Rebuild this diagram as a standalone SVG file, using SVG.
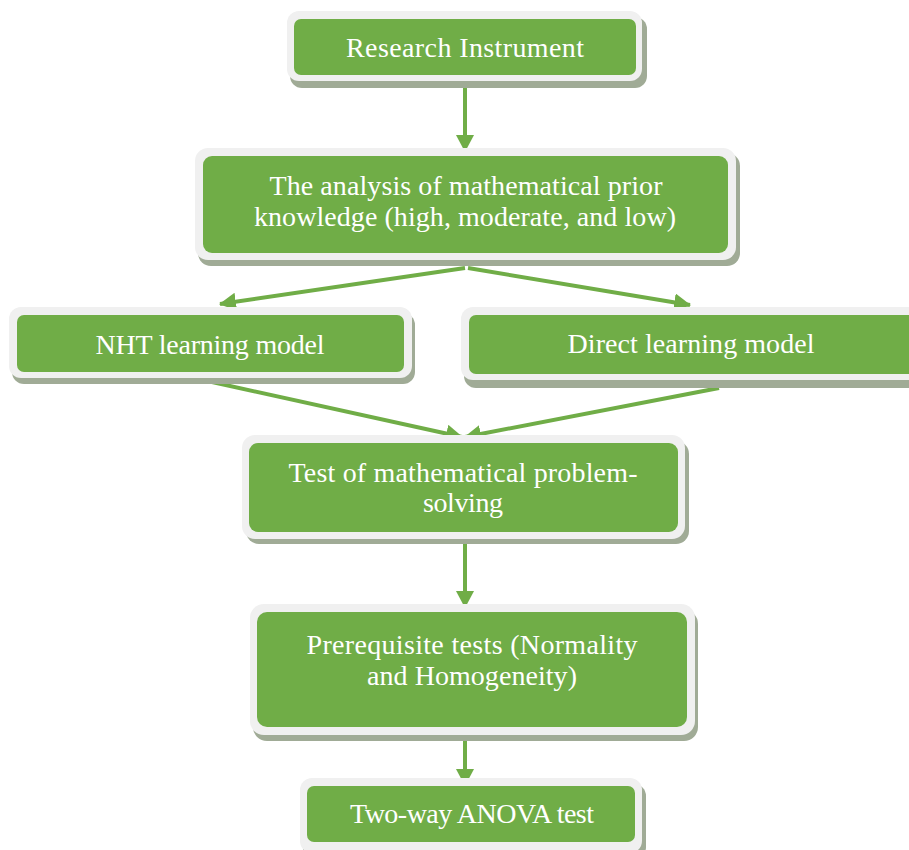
<svg xmlns="http://www.w3.org/2000/svg" width="909" height="850" viewBox="0 0 909 850">
<style>
.sh{fill:#a0ab96}
.out{fill:#f0f0f0}
.in{fill:#70ad47}
.t{font-family:"Liberation Serif","Times New Roman",serif;font-size:28px;fill:#ffffff;text-anchor:middle}
.c{stroke:#70ad47;stroke-width:4;fill:none;marker-end:url(#ah)}
</style>
<defs>
<marker id="ah" markerUnits="userSpaceOnUse" markerWidth="17" markerHeight="18" refX="16" refY="9" orient="auto">
<path d="M0,0 L17,9 L0,18 z" fill="#70ad47"/>
</marker>
</defs>
<rect width="909" height="850" fill="#ffffff"/>
<g id="connectors">
<line class="c" x1="465" y1="82" x2="465" y2="151"/>
<line class="c" x1="465" y1="268" x2="220" y2="304"/>
<line class="c" x1="468" y1="268" x2="690" y2="305"/>
<line class="c" x1="212" y1="382" x2="462" y2="437"/>
<line class="c" x1="719" y1="388" x2="465" y2="437"/>
<line class="c" x1="465" y1="540" x2="465" y2="607"/>
<line class="c" x1="465" y1="737" x2="465" y2="785"/>
</g>
<g id="n1">
<rect class="sh" x="290" y="17" width="357" height="71" rx="12"/>
<rect class="out" x="287" y="11" width="355" height="70" rx="12"/>
<rect class="in" x="294" y="19" width="342" height="56" rx="7"/>
<text class="t" x="465" y="57" textLength="238">Research Instrument</text>
</g>
<g id="n2">
<rect class="sh" x="198" y="153" width="542" height="113" rx="13"/>
<rect class="out" x="195" y="148" width="541" height="112" rx="13"/>
<rect class="in" x="203" y="156" width="525" height="97" rx="9"/>
<text class="t" x="466" y="195" textLength="393">The analysis of mathematical prior</text>
<text class="t" x="465" y="226" textLength="422">knowledge (high, moderate, and low)</text>
</g>
<g id="n3">
<rect class="sh" x="12" y="313" width="403" height="71" rx="12"/>
<rect class="out" x="9" y="307" width="403" height="71" rx="12"/>
<rect class="in" x="17" y="315" width="387" height="57" rx="7"/>
<text class="t" x="210" y="354" textLength="229">NHT learning model</text>
</g>
<g id="n4">
<rect class="sh" x="464" y="313" width="470" height="75" rx="12"/>
<rect class="out" x="461" y="307" width="470" height="73" rx="12"/>
<rect class="in" x="469" y="315" width="460" height="59" rx="7"/>
<text class="t" x="691" y="353" textLength="247">Direct learning model</text>
</g>
<g id="n5">
<rect class="sh" x="246" y="441" width="443" height="103" rx="13"/>
<rect class="out" x="242" y="435" width="443" height="104" rx="13"/>
<rect class="in" x="249" y="443" width="429" height="89" rx="9"/>
<text class="t" x="463" y="482" textLength="349">Test of mathematical problem-</text>
<text class="t" x="463" y="512" textLength="80">solving</text>
</g>
<g id="n6">
<rect class="sh" x="253" y="610" width="445" height="131" rx="14"/>
<rect class="out" x="250" y="604" width="445" height="131" rx="14"/>
<rect class="in" x="257" y="612" width="430" height="115" rx="10"/>
<text class="t" x="472" y="654" textLength="331">Prerequisite tests (Normality</text>
<text class="t" x="472" y="685" textLength="210">and Homogeneity)</text>
</g>
<g id="n7">
<rect class="sh" x="303" y="784" width="343" height="75" rx="12"/>
<rect class="out" x="300" y="778" width="342" height="75" rx="12"/>
<rect class="in" x="307" y="786" width="328" height="56" rx="7"/>
<text class="t" x="472" y="823" textLength="244">Two-way ANOVA test</text>
</g>
</svg>
